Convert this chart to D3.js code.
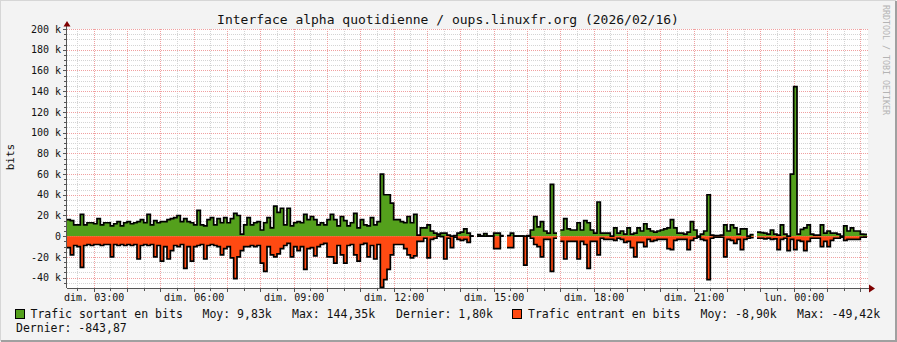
<!DOCTYPE html>
<html>
<head>
<meta charset="utf-8">
<script src="https://cdn.jsdelivr.net/npm/d3@7"></script>
<style>
  html, body { margin: 0; padding: 0; background: #f3f3f3; }
  svg { display: block; font-family: "DejaVu Sans Mono", monospace; }
</style>
</head>
<body>
<div id="graph"></div>
<script>
// Traffic in k bits, one value every 6 minutes from dim. 02:12
var trafficOut = [
  16, 15, 11, 11, 21, 11, 13, 13, 12, 17, 11, 13, 13, 10, 12, 14, 10, 13, 14, 12, 13, 14, 16, 13,
  21, 11, 15, 13, 14, 14, 16, 17, 18, 20, 14, 17, 14, 13, 11, 25, 11, 10, 16, 18, 11, 17, 13, 18,
  13, 17, 22, 20, 2, 11, 18, 11, 13, 14, 6, 13, 18, 8, 29, 23, 27, 11, 27, 10, 13, 14, 13, 21,
  16, 19, 16, 11, 13, 11, 16, 21, 16, 10, 19, 15, 10, 13, 22, 8, 16, 11, 10, 18, 11, 14, 60, 40,
  40, 32, 16, 16, 14, 13, 19, 13, 21, 1, 8, 8, 11, 5, 3, 2, 3, 3, 1, 0, 0.5, 3, 4, 7,
  3, 0, null, 1.5, 0, 2.5, 0, 0, 3, 3, 0.5, null, 0.5, 3, 0, 0, 0, 0, 0.5, 6, 19, 9, 14, 5,
  3, 50, 3, null, 6, 17, 7, 6, 6, 13, 6, 15, 13, 6, 3, 33, 3, 3, 3, 0, 8, 3, 5, 2,
  8, 2, 3, 8, 5, 12, 7, 5, 4, 5, 6, 7, 8, 16, 8, 3, 3, 2, 4, 14, 6, 0, 2, 5,
  40, 1, 0.5, 0.5, 1, 11, 5, 11, 8, 2, 7, 7, 0, 1.5, null, 4, 3.5, 3, 2, 6, 2, 1, 11, 2,
  0, 60, 144.35, 2, 6.5, 8, 11, 2, 1, 1, 11, 3, 5, 3, 3, 2, 0, 10, 5, 8, 5, 5, 2, 1.8
];
var trafficIn = [
  -11, -18, -9, -10, -30, -9, -8, -9, -8, -8, -9, -8, -8, -20, -8, -9, -8, -9, -8, -9, -8, -22, -9, -8,
  -9, -8, -20, -9, -24, -10, -22, -14, -9, -10, -8, -31, -10, -24, -10, -9, -8, -22, -9, -8, -9, -10, -18, -12,
  -10, -21, -41, -20, -14, -10, -10, -9, -10, -9, -26, -34, -10, -18, -20, -17, -12, -9, -7, -20, -10, -14, -10, -32,
  -12, -11, -19, -10, -8, -7, -20, -20, -26, -9, -18, -26, -9, -8, -18, -24, -8, -7, -20, -9, -22, -8, -49.42, -42,
  -32, -18, -8, -8, -8, -12, -18, -21, -19, -5, -5, -2, -21, -3, -2, 0, -0.5, -22, -2, -11, -1, -3, -4, -3,
  -6, 0, null, 0, 0, 0, 0, 0, -12, -12, 0, null, -11, -11, 0, 0, 0, -28, 0, -2, -8, -10, -20, -3,
  -3, -34, -2, null, -5, -22, -5, -5, -5, -22, -5, -8, -31, -5, -5, -18, -2, -3, -3, -3, -4, -2, -3, -6,
  -5, -11, -20, -6, -6, -10, -3, -5, -4, -3, -3, -3, -12, -13, -4, -3, -3, -3, -13, -4, -2, -1, -3, -4,
  -42, -2, -1, -1, -1, -20, -3, -4, -7, -3, -13, -3, -2, -1.5, null, -2, -2, -2.5, -2, -3, -2.5, -13, -3, -2,
  -14, -3, -13, -4, -5, -14, -5, -2, -2, -2, -10, -5, -10, -4, -2, -2, -1, -4, -3, -3, -3, -3, -1, -0.84
];

var dayNames = ["dim.", "lun.", "mar.", "mer.", "jeu.", "ven.", "sam."];
var yTickValues = [-40, -20, 0, 20, 40, 60, 80, 100, 120, 140, 160, 180, 200];
var legendOut = ["Trafic sortant en bits", "Moy: 9,83k", "Max: 144,35k", "Dernier: 1,80k"];
var legendIn = ["Trafic entrant en bits", "Moy: -8,90k", "Max: -49,42k", "Dernier: -843,87"];
var title = "Interface alpha quotidienne / oups.linuxfr.org (2026/02/16)";

var startTime = new Date(2026, 1, 15, 2, 12);
var endTime = new Date(2026, 1, 16, 2, 12);
var stepMinutes = 6;

var width = 897;
var height = 342;
var plot = { left: 67, right: 868, top: 29, bottom: 288 };

var colorOut = "#54a01c";
var colorIn = "#ff4a12";

var svg = d3
  .select("#graph")
  .append("svg")
  .attr("width", width)
  .attr("height", height);

// background + 3d frame
svg.append("rect").attr("width", width).attr("height", height).attr("fill", "#f3f3f3");
svg.append("path").attr("d", "M0,341 V0 H896").attr("fill", "none").attr("stroke", "#d6d6d6").attr("stroke-width", 2);
svg.append("path").attr("d", "M1,341 H896 V1").attr("fill", "none").attr("stroke", "#a0a0a0").attr("stroke-width", 2);

// scales
var x = d3.scaleTime().domain([startTime, endTime]).range([plot.left, plot.right - 1]);
var y = d3.scaleLinear().domain([-50, 200]).range([plot.bottom, plot.top]);

// canvas
svg
  .append("rect")
  .attr("x", plot.left)
  .attr("y", plot.top)
  .attr("width", plot.right - plot.left)
  .attr("height", plot.bottom - plot.top)
  .attr("fill", "#ffffff");

// grid
var grid = svg.append("g").attr("class", "grid").attr("shape-rendering", "crispEdges");
var minorY = d3.range(-45, 201, 5).filter(d => d % 20 !== 0);
var majorY = d3.range(-40, 201, 20);
var halfHours = d3.timeMinute.every(30).range(startTime, endTime).filter(d => d.getMinutes() === 30);
var hours = d3.timeHour.range(startTime, endTime);
var minorColor = "#d4d4d4";
var majorColor = "#f0a0a0";

grid
  .selectAll("line.minor-y")
  .data(minorY)
  .enter()
  .append("line")
  .attr("x1", plot.left)
  .attr("x2", plot.right)
  .attr("y1", d => Math.round(y(d)) + 0.5)
  .attr("y2", d => Math.round(y(d)) + 0.5)
  .attr("stroke", minorColor)
  .attr("stroke-dasharray", "1,1");

grid
  .selectAll("line.minor-x")
  .data(halfHours)
  .enter()
  .append("line")
  .attr("x1", d => Math.round(x(d)) + 0.5)
  .attr("x2", d => Math.round(x(d)) + 0.5)
  .attr("y1", plot.top)
  .attr("y2", plot.bottom)
  .attr("stroke", minorColor)
  .attr("stroke-dasharray", "1,1");

grid
  .selectAll("line.major-y")
  .data(majorY)
  .enter()
  .append("line")
  .attr("x1", plot.left)
  .attr("x2", plot.right)
  .attr("y1", d => Math.round(y(d)) + 0.5)
  .attr("y2", d => Math.round(y(d)) + 0.5)
  .attr("stroke", majorColor)
  .attr("stroke-dasharray", "1,1");

grid
  .selectAll("line.major-x")
  .data(hours)
  .enter()
  .append("line")
  .attr("x1", d => Math.round(x(d)) + 0.5)
  .attr("x2", d => Math.round(x(d)) + 0.5)
  .attr("y1", plot.top)
  .attr("y2", plot.bottom)
  .attr("stroke", majorColor)
  .attr("stroke-dasharray", "1,1");

// turn a series into explicit step points, null = unknown
var toSteps = function(values) {
  var pts = [];
  values.forEach((v, i) => {
    var t0 = d3.timeMinute.offset(startTime, i * stepMinutes);
    var t1 = d3.timeMinute.offset(startTime, (i + 1) * stepMinutes);
    pts.push({ t: t0, v: v });
    pts.push({ t: t1, v: v });
  });
  return pts;
};

var area = d3
  .area()
  .defined(d => d.v != null)
  .x(d => x(d.t))
  .y0(y(0))
  .y1(d => y(d.v));

var line = d3
  .line()
  .defined(d => d.v != null)
  .x(d => x(d.t))
  .y(d => y(d.v));

var outSteps = toSteps(trafficOut);
var inSteps = toSteps(trafficIn);

svg.append("path").datum(outSteps).attr("d", area).attr("fill", colorOut);
svg.append("path").datum(inSteps).attr("d", area).attr("fill", colorIn);
svg.append("path").datum(outSteps).attr("d", line).attr("fill", "none").attr("stroke", "#000").attr("stroke-width", 1.7);
svg.append("path").datum(inSteps).attr("d", line).attr("fill", "none").attr("stroke", "#000").attr("stroke-width", 1.7);

// axes lines + arrows
var axisColor = "#555555";
var arrowColor = "#7f0000";
var axes = svg.append("g").attr("shape-rendering", "crispEdges");
axes.append("line").attr("x1", plot.left - 0.5).attr("x2", plot.left - 0.5).attr("y1", plot.bottom).attr("y2", 24).attr("stroke", axisColor);
axes.append("line").attr("x1", plot.left).attr("x2", 870).attr("y1", plot.bottom + 0.5).attr("y2", plot.bottom + 0.5).attr("stroke", axisColor);

// ticks on axes
axes
  .selectAll("line.ty")
  .data(minorY.concat(majorY))
  .enter()
  .append("line")
  .attr("x1", d => (d % 20 === 0 ? plot.left - 4 : plot.left - 3))
  .attr("x2", plot.left)
  .attr("y1", d => Math.round(y(d)) + 0.5)
  .attr("y2", d => Math.round(y(d)) + 0.5)
  .attr("stroke", axisColor);

axes
  .selectAll("line.tx")
  .data(hours.concat(halfHours))
  .enter()
  .append("line")
  .attr("x1", d => Math.round(x(d)) + 0.5)
  .attr("x2", d => Math.round(x(d)) + 0.5)
  .attr("y1", plot.bottom)
  .attr("y2", d => (d.getMinutes() === 0 ? plot.bottom + 4 : plot.bottom + 3))
  .attr("stroke", axisColor);

svg.append("path").attr("d", "M63.5,26.5 L70.5,26.5 L67,21 Z").attr("fill", arrowColor);
svg.append("path").attr("d", "M869,284.5 L869,292.5 L875,288.5 Z").attr("fill", arrowColor);

// tick labels
var yAxis = d3
  .axisLeft(y)
  .tickValues(yTickValues)
  .tickSize(0)
  .tickPadding(6)
  .tickFormat(d => (d === 0 ? "0" : d + " k"));

svg
  .append("g")
  .attr("transform", "translate(" + plot.left + ",0)")
  .call(yAxis)
  .call(g => g.select(".domain").remove())
  .selectAll("text")
  .attr("font-family", "DejaVu Sans Mono")
  .attr("font-size", "10px")
  .attr("fill", "#111");

var xAxis = d3
  .axisBottom(x)
  .ticks(d3.timeHour.every(3))
  .tickSize(0)
  .tickPadding(6)
  .tickFormat(d => dayNames[d.getDay()] + " " + d3.timeFormat("%H:%M")(d));

svg
  .append("g")
  .attr("transform", "translate(0," + plot.bottom + ")")
  .call(xAxis)
  .call(g => g.select(".domain").remove())
  .selectAll("text")
  .attr("font-family", "DejaVu Sans Mono")
  .attr("font-size", "10px")
  .attr("fill", "#111");

// title and side labels
svg
  .append("text")
  .attr("x", 448)
  .attr("y", 24)
  .attr("text-anchor", "middle")
  .attr("font-size", "13px")
  .attr("fill", "#111")
  .text(title);

svg
  .append("text")
  .attr("transform", "translate(14,157) rotate(-90)")
  .attr("text-anchor", "middle")
  .attr("font-size", "11px")
  .attr("fill", "#111")
  .text("bits");

svg
  .append("text")
  .attr("transform", "translate(883,5) rotate(90)")
  .attr("font-size", "8.3px")
  .attr("fill", "#b4b4b4")
  .text("RRDTOOL / TOBI OETIKER");

// legend
var legend = svg.append("g").attr("font-size", "11.5px").attr("fill", "#111");
legend.append("rect").attr("x", 15.5).attr("y", 309.5).attr("width", 9).attr("height", 9).attr("fill", colorOut).attr("stroke", "#000");
legend.append("rect").attr("x", 512.5).attr("y", 309.5).attr("width", 9).attr("height", 9).attr("fill", colorIn).attr("stroke", "#000");

var legendSpots = [
  [30.5, 318], [202.5, 318], [292, 318], [396, 318],
  [528, 318], [700.5, 318], [797, 318], [16, 331.5]
];

legendOut.concat(legendIn).forEach((txt, i) => {
  legend
    .append("text")
    .attr("x", legendSpots[i][0])
    .attr("y", legendSpots[i][1])
    .text(txt);
});
</script>
</body>
</html>
